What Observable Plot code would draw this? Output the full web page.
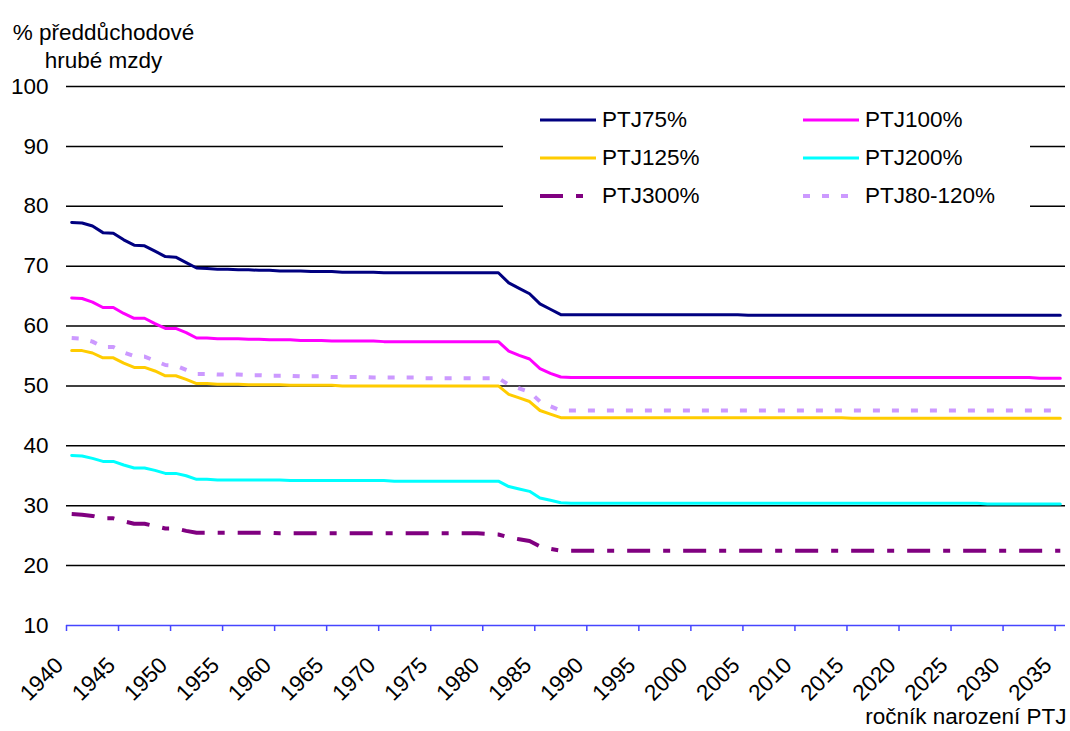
<!DOCTYPE html>
<html>
<head>
<meta charset="utf-8">
<script src="https://cdn.jsdelivr.net/npm/d3@7"></script>
<script src="https://cdn.jsdelivr.net/npm/@observablehq/plot@0.6"></script>
<style>
  html, body { margin: 0; padding: 0; background: white; }
  #wrap { position: relative; width: 1070px; height: 731px; font-family: "Liberation Sans", Arial, sans-serif; }
  #legend { position: absolute; left: 503px; top: 95px; width: 527px; height: 130px; background: white;
            box-sizing: border-box; padding: 5.5px 0 0 37px; display: grid; grid-template-columns: 263px 263px; grid-auto-rows: 38px; }
  .item { display: flex; align-items: center; font-size: 22.5px; color: #000; }
  .item svg { margin-right: 6px; flex: none; }
</style>
</head>
<body>
<div id="wrap"></div>
<script>
const years = [
  1940,1941,1942,1943,1944,1945,1946,1947,1948,1949,
  1950,1951,1952,1953,1954,1955,1956,1957,1958,1959,
  1960,1961,1962,1963,1964,1965,1966,1967,1968,1969,
  1970,1971,1972,1973,1974,1975,1976,1977,1978,1979,
  1980,1981,1982,1983,1984,1985,1986,1987,1988,1989,
  1990,1991,1992,1993,1994,1995,1996,1997,1998,1999,
  2000,2001,2002,2003,2004,2005,2006,2007,2008,2009,
  2010,2011,2012,2013,2014,2015,2016,2017,2018,2019,
  2020,2021,2022,2023,2024,2025,2026,2027,2028,2029,
  2030,2031,2032,2033,2034,2035
];
const ptj75 = [
  77.3,77.2,76.7,75.6,75.5,74.4,73.5,73.4,72.5,71.6,
  71.5,70.6,69.7,69.6,69.5,69.5,69.4,69.4,69.3,69.3,
  69.2,69.2,69.2,69.1,69.1,69.1,69.0,69.0,69.0,69.0,
  68.9,68.9,68.9,68.9,68.9,68.9,68.9,68.9,68.9,68.9,
  68.9,68.9,67.2,66.3,65.4,63.7,62.8,61.9,61.9,61.9,
  61.9,61.9,61.9,61.9,61.9,61.9,61.9,61.9,61.9,61.9,
  61.9,61.9,61.9,61.9,61.9,61.8,61.8,61.8,61.8,61.8,
  61.8,61.8,61.8,61.8,61.8,61.8,61.8,61.8,61.8,61.8,
  61.8,61.8,61.8,61.8,61.8,61.8,61.8,61.8,61.8,61.8,
  61.8,61.8,61.8,61.8,61.8,61.8
];
const ptj100 = [
  64.7,64.6,64.0,63.1,63.1,62.1,61.3,61.3,60.4,59.6,
  59.6,58.9,58.0,58.0,57.9,57.9,57.9,57.8,57.8,57.7,
  57.7,57.7,57.6,57.6,57.6,57.5,57.5,57.5,57.5,57.5,
  57.4,57.4,57.4,57.4,57.4,57.4,57.4,57.4,57.4,57.4,
  57.4,57.4,55.8,55.1,54.5,52.9,52.1,51.5,51.4,51.4,
  51.4,51.4,51.4,51.4,51.4,51.4,51.4,51.4,51.4,51.4,
  51.4,51.4,51.4,51.4,51.4,51.4,51.4,51.4,51.4,51.4,
  51.4,51.4,51.4,51.4,51.4,51.4,51.4,51.4,51.4,51.4,
  51.4,51.4,51.4,51.4,51.4,51.4,51.4,51.4,51.4,51.4,
  51.4,51.4,51.4,51.3,51.3,51.3
];
const ptj125 = [
  55.9,55.9,55.5,54.7,54.7,53.8,53.1,53.1,52.5,51.7,
  51.7,51.1,50.4,50.4,50.3,50.3,50.3,50.2,50.2,50.2,
  50.2,50.1,50.1,50.1,50.1,50.1,50.0,50.0,50.0,50.0,
  50.0,50.0,50.0,50.0,50.0,50.0,50.0,50.0,50.0,50.0,
  50.0,50.0,48.6,48.0,47.4,45.9,45.3,44.7,44.7,44.7,
  44.7,44.7,44.7,44.7,44.7,44.7,44.7,44.7,44.7,44.7,
  44.7,44.7,44.7,44.7,44.7,44.7,44.7,44.7,44.7,44.7,
  44.7,44.7,44.7,44.7,44.7,44.6,44.6,44.6,44.6,44.6,
  44.6,44.6,44.6,44.6,44.6,44.6,44.6,44.6,44.6,44.6,
  44.6,44.6,44.6,44.6,44.6,44.6
];
const ptj200 = [
  38.4,38.3,37.9,37.4,37.4,36.8,36.3,36.3,35.9,35.4,
  35.4,35.0,34.4,34.4,34.3,34.3,34.3,34.3,34.3,34.3,
  34.3,34.2,34.2,34.2,34.2,34.2,34.2,34.2,34.2,34.2,
  34.2,34.1,34.1,34.1,34.1,34.1,34.1,34.1,34.1,34.1,
  34.1,34.1,33.2,32.8,32.4,31.3,30.9,30.5,30.4,30.4,
  30.4,30.4,30.4,30.4,30.4,30.4,30.4,30.4,30.4,30.4,
  30.4,30.4,30.4,30.4,30.4,30.4,30.4,30.4,30.4,30.4,
  30.4,30.4,30.4,30.4,30.4,30.4,30.4,30.4,30.4,30.4,
  30.4,30.4,30.4,30.4,30.4,30.4,30.4,30.4,30.3,30.3,
  30.3,30.3,30.3,30.3,30.3,30.3
];
const ptj300 = [
  28.6,28.5,28.3,27.9,27.9,27.4,27.0,27.0,26.6,26.2,
  26.2,25.8,25.5,25.5,25.5,25.5,25.5,25.5,25.5,25.5,
  25.4,25.4,25.4,25.4,25.4,25.4,25.4,25.4,25.4,25.4,
  25.4,25.4,25.4,25.4,25.4,25.4,25.4,25.4,25.4,25.4,
  25.3,25.2,24.7,24.4,24.1,23.2,22.8,22.5,22.5,22.5,
  22.5,22.5,22.5,22.5,22.5,22.5,22.5,22.5,22.5,22.5,
  22.5,22.5,22.5,22.5,22.5,22.5,22.5,22.5,22.5,22.5,
  22.5,22.5,22.5,22.5,22.5,22.5,22.5,22.5,22.5,22.5,
  22.5,22.5,22.5,22.5,22.5,22.5,22.5,22.5,22.5,22.5,
  22.5,22.5,22.5,22.5,22.5,22.5
];
const ptj80_120 = [
  58.0,57.9,57.4,56.5,56.5,55.6,55.0,54.9,54.2,53.5,
  53.4,52.7,52.0,52.0,51.9,51.9,51.9,51.8,51.8,51.7,
  51.7,51.7,51.6,51.6,51.6,51.5,51.5,51.5,51.5,51.4,
  51.4,51.4,51.4,51.4,51.3,51.3,51.3,51.3,51.3,51.3,
  51.3,51.3,50.2,49.6,49.0,47.4,46.6,45.9,45.9,45.9,
  45.9,45.9,45.9,45.9,45.9,45.9,45.9,45.9,45.9,45.9,
  45.9,45.9,45.9,45.9,45.9,45.9,45.9,45.9,45.9,45.9,
  45.9,45.9,45.9,45.9,45.9,45.9,45.9,45.9,45.9,45.9,
  45.9,45.9,45.9,45.9,45.9,45.9,45.9,45.9,45.9,45.9,
  45.9,45.9,45.9,45.9,45.9,45.9
];

const seriesNames = ["PTJ75%", "PTJ100%", "PTJ125%", "PTJ200%", "PTJ300%", "PTJ80-120%"];
const seriesValues = [ptj75, ptj100, ptj125, ptj200, ptj300, ptj80_120];

const yTicks = [10, 20, 30, 40, 50, 60, 70, 80, 90, 100];
const gridValues = [20, 30, 40, 50, 60, 70, 80, 90, 100];
// category boundaries where Excel draws the tick marks (every 5th category)
const tickEdges = [1939.5,1944.5,1949.5,1954.5,1959.5,1964.5,1969.5,1974.5,1979.5,1984.5,
                   1989.5,1994.5,1999.5,2004.5,2009.5,2014.5,2019.5,2024.5,2029.5,2034.5];
const xLabels = ["1940","1945","1950","1955","1960","1965","1970","1975","1980","1985",
                 "1990","1995","2000","2005","2010","2015","2020","2025","2030","2035"];
const yTitle = "% předdůchodové\nhrubé mzdy";
const xTitle = "ročník narození PTJ";

const styles = {
  "PTJ75%":     {stroke: "#000080", width: 3, dash: null},
  "PTJ100%":    {stroke: "#FF00FF", width: 3, dash: null},
  "PTJ125%":    {stroke: "#FFCC00", width: 3, dash: null},
  "PTJ200%":    {stroke: "#00FFFF", width: 3, dash: null},
  "PTJ300%":    {stroke: "#800080", width: 4, dash: "23,13,7,13"},
  "PTJ80-120%": {stroke: "#CC99FF", width: 4, dash: "7,12"}
};

const rows = seriesNames.flatMap((name, s) =>
  years.map((year, i) => ({series: name, year, value: seriesValues[s][i]})));

const axisBlue = "#4646ff";
const font = "'Liberation Sans', Arial, sans-serif";

const chart = Plot.plot({
  width: 1070,
  height: 731,
  marginLeft: 66,
  marginRight: 5,
  marginTop: 86,
  marginBottom: 106,
  style: {fontFamily: font, fontSize: "22.5px", background: "white", color: "black", overflow: "visible"},
  x: {domain: [1939.5, 2035.5], axis: null},
  y: {domain: [10, 100], axis: null},
  marks: [
    Plot.ruleY(gridValues, {stroke: "black", strokeWidth: 1.5}),
    ...seriesNames.map(name => Plot.line(rows.filter(d => d.series === name), {
      x: "year", y: "value",
      stroke: styles[name].stroke,
      strokeWidth: styles[name].width,
      strokeDasharray: styles[name].dash,
      strokeLinecap: styles[name].dash ? "butt" : "round",
      strokeLinejoin: "round"
    })),
    Plot.ruleY([10], {stroke: axisBlue, strokeWidth: 1.5}),
    Plot.axisX(tickEdges, {tickSize: 6, tickFormat: () => "", stroke: axisBlue, strokeWidth: 1.5, strokeOpacity: 1, label: null}),
    Plot.axisY(yTicks, {tickSize: 0, tickPadding: 18, fontSize: 22.5, label: null, fill: "black"}),
    Plot.text(xLabels, {
      x: (d, i) => tickEdges[i], frameAnchor: "bottom", text: d => d,
      rotate: -45, textAnchor: "end", lineAnchor: "middle",
      dx: -7, dy: 36, fontSize: 22.5, fill: "black"
    }),
    Plot.text([yTitle], {
      frameAnchor: "top-left", text: d => d, textAnchor: "middle", lineAnchor: "top",
      lineHeight: 28 / 22.5, dx: 37, dy: -66.6, fontSize: 22.5, fill: "black"
    }),
    Plot.text([xTitle], {
      frameAnchor: "bottom-right", text: d => d, textAnchor: "end", lineAnchor: "middle",
      dx: 1, dy: 91, fontSize: 22.5, fill: "black"
    })
  ]
});

const wrap = document.getElementById("wrap");
wrap.appendChild(chart);

// Legend (Excel-style, inside the plot area on a white box)
const legend = document.createElement("div");
legend.id = "legend";
for (const name of seriesNames) {
  const st = styles[name];
  const item = document.createElement("div");
  item.className = "item";
  const svg = d3.create("svg").attr("width", 56).attr("height", 10);
  svg.append("line").attr("x1", 0).attr("x2", 56).attr("y1", 5).attr("y2", 5)
    .attr("stroke", st.stroke).attr("stroke-width", st.width)
    .attr("stroke-dasharray", st.dash).attr("stroke-linecap", "butt");
  item.appendChild(svg.node());
  const label = document.createElement("span");
  label.textContent = name;
  item.appendChild(label);
  legend.appendChild(item);
}
wrap.appendChild(legend);
</script>
</body>
</html>
